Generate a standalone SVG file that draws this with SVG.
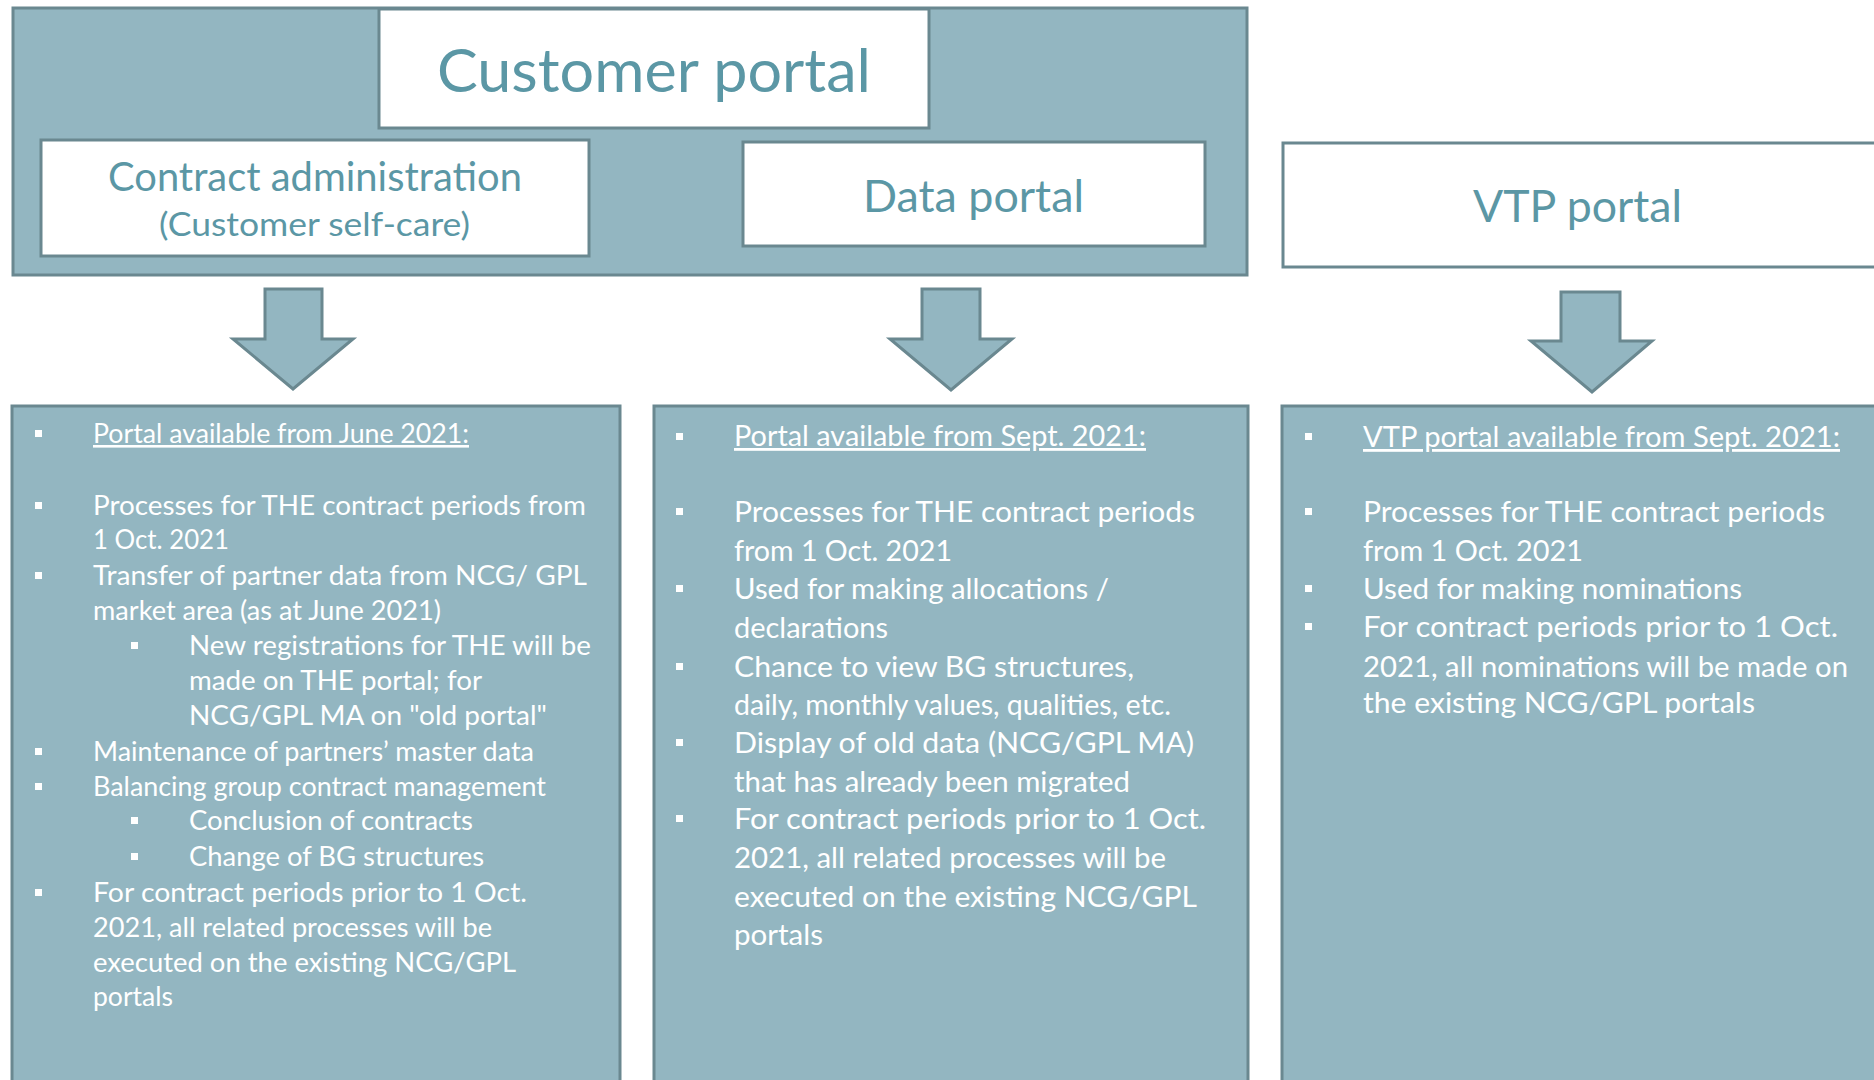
<svg xmlns="http://www.w3.org/2000/svg" width="1874" height="1080" viewBox="0 0 1874 1080">
<style>
.panel{fill:#93b6c1;stroke:#6a8890;stroke-width:3}
.wbox{fill:#ffffff;stroke:#6a8890;stroke-width:3}
.arrow{fill:#93b6c1;stroke:#6a8890;stroke-width:3;stroke-linejoin:miter}
.title{font-family:Lato,"Open Sans",sans-serif;fill:#5b97a5;text-anchor:middle}
.b1{font-family:Lato,"Open Sans",sans-serif;font-size:26px;fill:#ffffff}
.b2{font-family:Lato,"Open Sans",sans-serif;font-size:28px;fill:#ffffff}
.u{text-decoration:underline}
.bul{fill:#ffffff}
</style>
<rect width="1874" height="1080" fill="#ffffff"/>

<g id="customer-portal">
  <rect class="panel" x="13" y="8" width="1234" height="267"/>
  <rect class="wbox" x="379" y="9" width="550" height="119"/>
  <text class="title" x="654" y="92" font-size="60" textLength="434" lengthAdjust="spacingAndGlyphs">Customer portal</text>
</g>

<g id="contract-administration">
  <rect class="wbox" x="41" y="140" width="548" height="116"/>
  <text class="title" x="315" y="191" font-size="40" textLength="414" lengthAdjust="spacingAndGlyphs">Contract administration</text>
  <text class="title" x="314.5" y="236" font-size="32" textLength="311" lengthAdjust="spacingAndGlyphs">(Customer self-care)</text>
</g>

<g id="data-portal">
  <rect class="wbox" x="743" y="142" width="462" height="104"/>
  <text class="title" x="973.5" y="212" font-size="44" textLength="221" lengthAdjust="spacingAndGlyphs">Data portal</text>
</g>

<g id="vtp-portal">
  <rect class="wbox" x="1283" y="143" width="620" height="124"/>
  <text class="title" x="1577.5" y="222" font-size="44" textLength="209" lengthAdjust="spacingAndGlyphs">VTP portal</text>
</g>

<g id="connectors">
  <polygon class="arrow" points="265,289 322,289 322,339 353,339 293,389 233,339 265,339"/>
  <polygon class="arrow" points="922,289 980,289 980,339 1012,339 951,390 890,339 922,339"/>
  <polygon class="arrow" points="1561,292 1620,292 1620,341 1652,341 1592,392 1531,341 1561,341"/>
</g>

<g id="contract-administration-details">
  <rect class="panel" x="12" y="406" width="608" height="720"/>
  <rect class="bul" x="35" y="430" width="7" height="7"/>
  <text class="b1 u" x="93" y="443" textLength="376" lengthAdjust="spacingAndGlyphs">Portal available from June 2021:</text>
  <rect class="bul" x="35" y="502" width="7" height="7"/>
  <text class="b1" x="93" y="515" textLength="493" lengthAdjust="spacingAndGlyphs">Processes for THE contract periods from</text>
  <text class="b1" x="93" y="549" textLength="136" lengthAdjust="spacingAndGlyphs">1 Oct. 2021</text>
  <rect class="bul" x="35" y="572" width="7" height="7"/>
  <text class="b1" x="93" y="585" textLength="494" lengthAdjust="spacingAndGlyphs">Transfer of partner data from NCG/ GPL</text>
  <text class="b1" x="93" y="620" textLength="348" lengthAdjust="spacingAndGlyphs">market area (as at June 2021)</text>
  <rect class="bul" x="131" y="642" width="7" height="7"/>
  <text class="b1" x="189" y="655" textLength="402" lengthAdjust="spacingAndGlyphs">New registrations for THE will be</text>
  <text class="b1" x="189" y="690" textLength="293" lengthAdjust="spacingAndGlyphs">made on THE portal; for</text>
  <text class="b1" x="189" y="725" textLength="358" lengthAdjust="spacingAndGlyphs">NCG/GPL MA on "old portal"</text>
  <rect class="bul" x="35" y="748" width="7" height="7"/>
  <text class="b1" x="93" y="761" textLength="441" lengthAdjust="spacingAndGlyphs">Maintenance of partners’ master data</text>
  <rect class="bul" x="35" y="783" width="7" height="7"/>
  <text class="b1" x="93" y="796" textLength="453" lengthAdjust="spacingAndGlyphs">Balancing group contract management</text>
  <rect class="bul" x="131" y="817" width="7" height="7"/>
  <text class="b1" x="189" y="830" textLength="284" lengthAdjust="spacingAndGlyphs">Conclusion of contracts</text>
  <rect class="bul" x="131" y="853" width="7" height="7"/>
  <text class="b1" x="189" y="866" textLength="295" lengthAdjust="spacingAndGlyphs">Change of BG structures</text>
  <rect class="bul" x="35" y="889" width="7" height="7"/>
  <text class="b1" x="93" y="902" textLength="434" lengthAdjust="spacingAndGlyphs">For contract periods prior to 1 Oct.</text>
  <text class="b1" x="93" y="937" textLength="399" lengthAdjust="spacingAndGlyphs">2021, all related processes will be</text>
  <text class="b1" x="93" y="972" textLength="423" lengthAdjust="spacingAndGlyphs">executed on the existing NCG/GPL</text>
  <text class="b1" x="93" y="1006" textLength="80" lengthAdjust="spacingAndGlyphs">portals</text>
</g>

<g id="data-portal-details">
  <rect class="panel" x="654" y="406" width="594" height="720"/>
  <rect class="bul" x="676" y="433" width="7" height="7"/>
  <text class="b2 u" x="734" y="446" textLength="412" lengthAdjust="spacingAndGlyphs">Portal available from Sept. 2021:</text>
  <rect class="bul" x="676" y="508" width="7" height="7"/>
  <text class="b2" x="734" y="522" textLength="461" lengthAdjust="spacingAndGlyphs">Processes for THE contract periods</text>
  <text class="b2" x="734" y="561" textLength="218" lengthAdjust="spacingAndGlyphs">from 1 Oct. 2021</text>
  <rect class="bul" x="676" y="585" width="7" height="7"/>
  <text class="b2" x="734" y="599" textLength="375" lengthAdjust="spacingAndGlyphs">Used for making allocations /</text>
  <text class="b2" x="734" y="638" textLength="154" lengthAdjust="spacingAndGlyphs">declarations</text>
  <rect class="bul" x="676" y="663" width="7" height="7"/>
  <text class="b2" x="734" y="677" textLength="400" lengthAdjust="spacingAndGlyphs">Chance to view BG structures,</text>
  <text class="b2" x="734" y="715" textLength="437" lengthAdjust="spacingAndGlyphs">daily, monthly values, qualities, etc.</text>
  <rect class="bul" x="676" y="739" width="7" height="7"/>
  <text class="b2" x="734" y="753" textLength="460" lengthAdjust="spacingAndGlyphs">Display of old data (NCG/GPL MA)</text>
  <text class="b2" x="734" y="792" textLength="396" lengthAdjust="spacingAndGlyphs">that has already been migrated</text>
  <rect class="bul" x="676" y="815" width="7" height="7"/>
  <text class="b2" x="734" y="829" textLength="472" lengthAdjust="spacingAndGlyphs">For contract periods prior to 1 Oct.</text>
  <text class="b2" x="734" y="868" textLength="432" lengthAdjust="spacingAndGlyphs">2021, all related processes will be</text>
  <text class="b2" x="734" y="907" textLength="463" lengthAdjust="spacingAndGlyphs">executed on the existing NCG/GPL</text>
  <text class="b2" x="734" y="945" textLength="89" lengthAdjust="spacingAndGlyphs">portals</text>
</g>

<g id="vtp-portal-details">
  <rect class="panel" x="1282" y="406" width="620" height="720"/>
  <rect class="bul" x="1305" y="433" width="7" height="7"/>
  <text class="b2 u" x="1363" y="447" textLength="477" lengthAdjust="spacingAndGlyphs">VTP portal available from Sept. 2021:</text>
  <rect class="bul" x="1305" y="508" width="7" height="7"/>
  <text class="b2" x="1363" y="522" textLength="462" lengthAdjust="spacingAndGlyphs">Processes for THE contract periods</text>
  <text class="b2" x="1363" y="561" textLength="220" lengthAdjust="spacingAndGlyphs">from 1 Oct. 2021</text>
  <rect class="bul" x="1305" y="585" width="7" height="7"/>
  <text class="b2" x="1363" y="599" textLength="379" lengthAdjust="spacingAndGlyphs">Used for making nominations</text>
  <rect class="bul" x="1305" y="623" width="7" height="7"/>
  <text class="b2" x="1363" y="637" textLength="475" lengthAdjust="spacingAndGlyphs">For contract periods prior to 1 Oct.</text>
  <text class="b2" x="1363" y="677" textLength="485" lengthAdjust="spacingAndGlyphs">2021, all nominations will be made on</text>
  <text class="b2" x="1363" y="713" textLength="392" lengthAdjust="spacingAndGlyphs">the existing NCG/GPL portals</text>
</g>
</svg>
